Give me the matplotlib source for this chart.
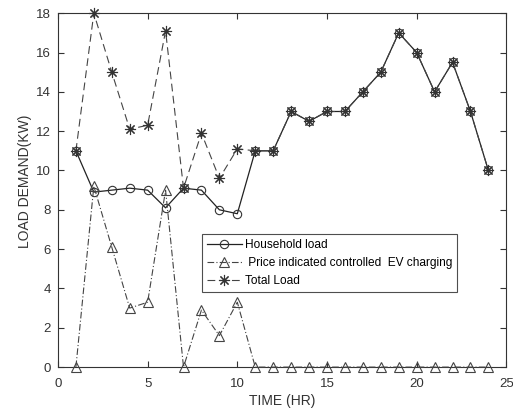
import matplotlib
matplotlib.use('Agg')
import matplotlib.pyplot as plt

plt.rcParams['font.family'] = ['Liberation Sans', 'DejaVu Sans']

hours = list(range(1, 25))
household = [11, 8.9, 9.0, 9.1, 9.0, 8.1, 9.1, 9.0, 8.0, 7.8, 11, 11,
             13, 12.5, 13, 13, 14, 15, 17, 16, 14, 15.5, 13, 10]
ev_charging = [0, 9.2, 6.1, 3.0, 3.3, 9.0, 0, 2.9, 1.6, 3.3, 0, 0,
               0, 0, 0, 0, 0, 0, 0, 0, 0, 0, 0, 0]
total_load = [11, 18, 15, 12.1, 12.3, 17.1, 9.1, 11.9, 9.6, 11.1, 11, 11,
              13, 12.5, 13, 13, 14, 15, 17, 16, 14, 15.5, 13, 10]

fig = plt.figure(figsize=(5.13, 4.12), dpi=100)
ax = fig.add_axes([0.113, 0.109, 0.874, 0.859])

# asterisk marker like matlab '*'
star = (8, 2, 0)

ax.plot(hours, household, '-', color='#222222', lw=0.9, marker='o',
        ms=6, mfc='none', mec='#333333', mew=0.8, label='Household load',
        clip_on=False, zorder=3)
ax.plot(hours, ev_charging, color='#444444', lw=0.8, linestyle=(0, (6, 2, 1, 2)),
        marker='^', ms=7, mfc='none', mec='#444444', mew=0.8,
        label=' Price indicated controlled  EV charging', clip_on=False, zorder=3)
ax.plot(hours, total_load, color='#444444', lw=0.8, linestyle=(0, (7, 4)),
        marker=star, ms=8, mec='#333333', mew=0.8,
        label='Total Load', clip_on=False, zorder=3)

ax.set_xlim(0, 25)
ax.set_ylim(0, 18)
ax.set_xticks(range(0, 26, 5))
ax.set_yticks(range(0, 19, 2))
ax.tick_params(direction='in', top=True, right=True, labelsize=9.5,
               colors='#333333', length=4)
ax.tick_params(axis='x', pad=8)
ax.tick_params(axis='y', pad=5)
for s in ax.spines.values():
    s.set_color('#333333')
    s.set_linewidth(0.8)

ax.set_xlabel('TIME (HR)', fontsize=10, color='#333333', labelpad=3)
ax.set_ylabel('LOAD DEMAND(KW)', fontsize=10, color='#333333')
ax.yaxis.set_label_coords(-0.058, 0.525)

leg = ax.legend(loc='upper left', bbox_to_anchor=(0.322, 0.376), fontsize=8.6,
                frameon=True, fancybox=False, edgecolor='#222222',
                handlelength=2.9, handletextpad=0.25, borderpad=0.4,
                labelspacing=0.5, borderaxespad=0)
leg.get_frame().set_linewidth(0.8)

fig.savefig('out.png', dpi=100)
